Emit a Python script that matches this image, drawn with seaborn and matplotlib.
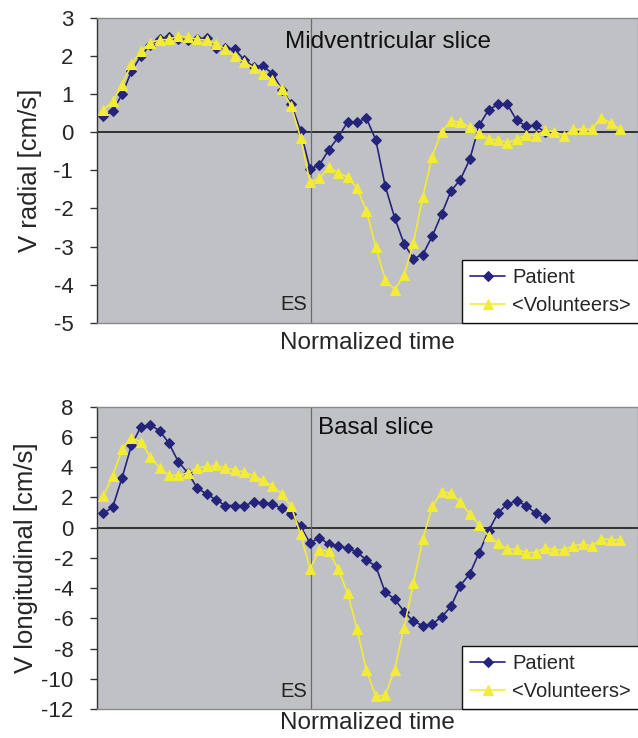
import numpy as np
import pandas as pd
import matplotlib
matplotlib.use("Agg")
import matplotlib.pyplot as plt
import seaborn as sns

# ---------------- data ----------------
frames = np.arange(56)
es_frame = 22.15

radial_patient = [0.43, 0.55, 1.0, 1.6, 2.0, 2.3, 2.44, 2.5, 2.45, 2.42, 2.45, 2.47,
                  2.2, 2.22, 2.18, 1.9, 1.72, 1.74, 1.54, 1.12, 0.75, 0.03, -0.96,
                  -0.86, -0.46, -0.13, 0.27, 0.27, 0.37, -0.2, -1.41, -2.24, -2.92,
                  -3.32, -3.21, -2.73, -2.15, -1.54, -1.24, -0.71, 0.18, 0.59, 0.73,
                  0.73, 0.31, 0.16, 0.18, 0.0]
radial_volunteers = [0.59, 0.81, 1.25, 1.78, 2.13, 2.35, 2.42, 2.44, 2.53, 2.49, 2.44,
                     2.42, 2.33, 2.18, 2.0, 1.84, 1.69, 1.54, 1.37, 1.14, 0.68, -0.15,
                     -1.31, -1.21, -0.92, -1.06, -1.18, -1.46, -2.06, -3.01, -3.87,
                     -4.13, -3.76, -2.91, -1.69, -0.64, 0.02, 0.30, 0.27, 0.13, -0.02,
                     -0.18, -0.2, -0.27, -0.18, -0.07, -0.09, 0.05, 0.02, -0.09, 0.08,
                     0.08, 0.08, 0.38, 0.24, 0.08]
long_patient = [0.95, 1.35, 3.3, 5.45, 6.68, 6.79, 6.41, 5.57, 4.34, 3.63, 2.61, 2.23,
                1.83, 1.46, 1.46, 1.46, 1.68, 1.63, 1.57, 1.28, 0.9, 0.08, -1.03,
                -0.66, -1.1, -1.21, -1.37, -1.61, -2.15, -2.55, -4.28, -4.72, -5.55,
                -6.21, -6.48, -6.37, -5.92, -5.21, -3.83, -3.05, -1.65, -0.21, 0.97,
                1.57, 1.75, 1.46, 0.95, 0.63]
long_volunteers = [2.12, 3.41, 5.19, 5.95, 5.68, 4.68, 3.95, 3.46, 3.46, 3.63, 3.95,
                   4.05, 4.12, 3.95, 3.83, 3.68, 3.41, 3.12, 2.74, 2.23, 1.4, -0.45,
                   -2.72, -1.5, -1.55, -2.77, -4.32, -6.72, -9.43, -11.17, -11.1,
                   -9.39, -6.61, -3.66, -0.77, 1.41, 2.35, 2.3, 1.68, 0.9, 0.17,
                   -0.55, -1.03, -1.43, -1.43, -1.65, -1.65, -1.32, -1.48, -1.48,
                   -1.21, -1.1, -1.21, -0.72, -0.81, -0.81]

series_names = ["Patient", "<Volunteers>"]
panel_titles = ["Midventricular slice", "Basal slice"]
y_labels = ["V radial [cm/s]", "V longitudinal [cm/s]"]
x_label = "Normalized time"
es_label = "ES"
top_ticks = [3, 2, 1, 0, -1, -2, -3, -4, -5]
bottom_ticks = [8, 6, 4, 2, 0, -2, -4, -6, -8, -10, -12]

# ---------------- style ----------------
sns.set_style("white")
plt.rcParams["font.family"] = ["Liberation Sans", "DejaVu Sans"]

NAVY = "#24247c"
YELLOW = "#f3ec36"
BG = "#c0c1c5"

fig = plt.figure(figsize=(6.38, 7.38), dpi=100)
ax_top = fig.add_axes([0.152, 0.5627, 0.848, 0.4129])
ax_bot = fig.add_axes([0.152, 0.0393, 0.848, 0.4096])


def draw(ax, patient, volunteers, ylim, yticks, title, title_xy, ylabel, ylabel_x,
         xlabelpad):
    ax.set_facecolor(BG)
    dfp = pd.DataFrame({"frame": frames[:len(patient)], "v": patient})
    dfv = pd.DataFrame({"frame": frames[:len(volunteers)], "v": volunteers})
    ax.axhline(0, color="#1a1a1a", lw=1.2, zorder=1)
    ax.axvline(es_frame, color="#6a6a6a", lw=0.9, zorder=1)
    sns.lineplot(data=dfp, x="frame", y="v", ax=ax, color=NAVY, lw=1.2,
                 marker="D", markersize=5.5, markeredgecolor=NAVY,
                 label=series_names[0], zorder=3)
    sns.lineplot(data=dfv, x="frame", y="v", ax=ax, color=YELLOW, lw=1.2,
                 marker="^", markersize=7.5, markeredgecolor=YELLOW,
                 label=series_names[1], zorder=4)
    ax.set_xlim(-0.67, 56.9)
    ax.set_ylim(*ylim)
    ax.set_yticks(yticks)
    ax.set_yticklabels([str(t) for t in yticks])
    ax.set_xticks([])
    ax.tick_params(axis="y", direction="out", length=5, width=1, color="#333333",
                   pad=12, labelsize=16, left=True)
    for s in ["top", "right", "bottom"]:
        ax.spines[s].set_color("#8a8a8a")
        ax.spines[s].set_linewidth(1.0)
    ax.spines["left"].set_color("#333333")
    ax.spines["left"].set_linewidth(1.0)
    ax.set_xlabel(x_label, fontsize=17.5, labelpad=xlabelpad)
    ax.set_ylabel(ylabel, fontsize=18.5)
    ax.yaxis.set_label_coords(ylabel_x, 0.5)
    ax.text(title_xy[0], title_xy[1], title, transform=ax.transAxes,
            fontsize=17.5, ha="left", va="center", color="#111111")
    ax.text((es_frame - 0.45), 0.027, es_label, transform=ax.get_xaxis_transform(),
            fontsize=14.5, ha="right", va="bottom", color="#222222")
    leg = ax.legend(loc="lower left", bbox_to_anchor=(0.6747, 0.0), fontsize=14.5,
                    frameon=True, fancybox=False, framealpha=1, edgecolor="#111111",
                    handlelength=1.75, handletextpad=0.35, labelspacing=0.45,
                    borderpad=0.4, borderaxespad=0)
    leg.get_frame().set_linewidth(1.0)


draw(ax_top, radial_patient, radial_volunteers, (-5, 3), top_ticks,
     panel_titles[0], (0.3475, 0.921), y_labels[0], -0.102, 7)
draw(ax_bot, long_patient, long_volunteers, (-12, 8), bottom_ticks,
     panel_titles[1], (0.4085, 0.93), y_labels[1], -0.109, 2.5)

fig.savefig("out.png", dpi=100)
